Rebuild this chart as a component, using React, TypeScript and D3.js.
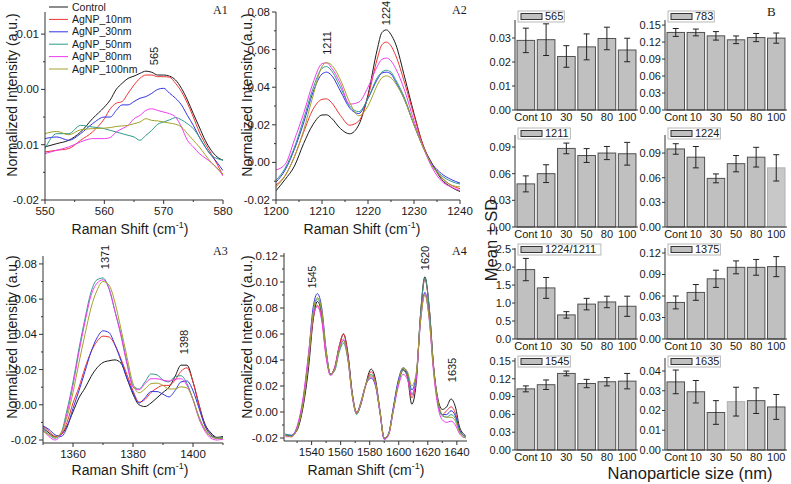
import React from 'react';
import * as d3 from 'd3';

const FONT = "'Liberation Sans', Arial, sans-serif";
const SERIF = "'Liberation Serif', 'Times New Roman', serif";
const TXT = '#1a1a1a';
const AX = '#333';

const SERIES_NAMES = ['Control', 'AgNP_10nm', 'AgNP_30nm', 'AgNP_50nm', 'AgNP_80nm', 'AgNP_100nm'];
const SERIES_COLORS = ['#1a1a1a', '#ee3333', '#3434e4', '#2e9a8c', '#f03cf0', '#a2a22a'];

// ---------- A1 ----------
const A1_X = [550, 552, 554, 556, 558, 560, 561, 562, 563, 564, 565, 566, 567, 568, 569, 570, 571, 572, 573, 574, 575, 576, 577, 578, 579, 580];
const A1_CONTROL = [-0.0104, -0.0098, -0.0092, -0.0077, -0.0053, -0.0032, -0.0019, 0.0, 0.0011, 0.002, 0.0024, 0.0029, 0.0033, 0.0031, 0.0026, 0.0026, 0.0024, 0.0017, 0.0002, -0.0019, -0.0044, -0.0068, -0.0092, -0.011, -0.0122, -0.0128];
const A1_10 = [-0.0113, -0.011, -0.0107, -0.0092, -0.0077, -0.0053, -0.0035, -0.0025, -0.0022, -0.0007, 0.0008, 0.002, 0.0026, 0.0026, 0.0023, 0.0023, 0.0022, 0.0011, -0.0004, -0.0025, -0.005, -0.0077, -0.0098, -0.0116, -0.0135, -0.0156];
const A1_30 = [-0.0089, -0.0086, -0.0092, -0.008, -0.0062, -0.005, -0.005, -0.0038, -0.0028, -0.0028, -0.0022, -0.0016, -0.0013, -0.0007, 0.0, 0.0002, -0.0007, -0.0016, -0.0028, -0.0047, -0.0065, -0.0086, -0.0104, -0.0119, -0.0132, -0.0147];
const A1_50 = [-0.0107, -0.008, -0.008, -0.0065, -0.0068, -0.0071, -0.0074, -0.0077, -0.008, -0.0083, -0.0086, -0.0092, -0.0083, -0.0074, -0.0063, -0.0059, -0.0055, -0.0051, -0.0055, -0.0062, -0.0071, -0.0086, -0.0104, -0.0119, -0.0125, -0.0128];
const A1_80 = [-0.0116, -0.011, -0.0104, -0.0095, -0.0089, -0.0089, -0.0087, -0.0077, -0.0071, -0.0065, -0.0053, -0.0047, -0.0038, -0.0035, -0.0038, -0.0041, -0.0044, -0.005, -0.0068, -0.0092, -0.0104, -0.0116, -0.0124, -0.0132, -0.0142, -0.0156];
const A1_100 = [-0.008, -0.0076, -0.0082, -0.0073, -0.0071, -0.007, -0.0069, -0.0067, -0.0066, -0.0065, -0.0062, -0.0059, -0.0053, -0.0056, -0.0057, -0.0059, -0.0061, -0.0063, -0.0068, -0.008, -0.0092, -0.0104, -0.0118, -0.0132, -0.0143, -0.0153];

// ---------- A2 ----------
const A2_X = [1200, 1202, 1204, 1206, 1208, 1210, 1211, 1212, 1214, 1216, 1218, 1220, 1222, 1223, 1224, 1225, 1226, 1228, 1230, 1232, 1234, 1236, 1238, 1240];
const A2_CONTROL = [-0.0151, -0.009, -0.002, 0.010, 0.020, 0.0252, 0.0253, 0.0237, 0.018, 0.0152, 0.020, 0.036, 0.060, 0.069, 0.0705, 0.068, 0.063, 0.045, 0.026, 0.009, -0.001, -0.009, -0.013, -0.0155];
const A2_10 = [-0.012, -0.007, 0.003, 0.016, 0.028, 0.0335, 0.0338, 0.032, 0.025, 0.0198, 0.022, 0.035, 0.055, 0.0625, 0.064, 0.062, 0.057, 0.042, 0.025, 0.009, -0.001, -0.008, -0.012, -0.014];
const A2_30 = [-0.0105, -0.004, 0.007, 0.021, 0.037, 0.047, 0.048, 0.0465, 0.038, 0.029, 0.026, 0.034, 0.044, 0.0475, 0.048, 0.047, 0.043, 0.033, 0.020, 0.008, -0.001, -0.006, -0.009, -0.011];
const A2_50 = [-0.0095, -0.003, 0.008, 0.023, 0.039, 0.050, 0.051, 0.049, 0.040, 0.030, 0.027, 0.034, 0.045, 0.048, 0.049, 0.048, 0.044, 0.034, 0.020, 0.008, -0.002, -0.007, -0.010, -0.0115];
const A2_80 = [-0.004, -0.001, 0.012, 0.026, 0.042, 0.0525, 0.053, 0.0505, 0.042, 0.031, 0.032, 0.040, 0.051, 0.0548, 0.0555, 0.054, 0.050, 0.038, 0.022, 0.008, -0.003, -0.010, -0.013, -0.015];
const A2_100 = [-0.013, -0.007, 0.003, 0.017, 0.035, 0.051, 0.053, 0.052, 0.044, 0.032, 0.0248, 0.030, 0.041, 0.045, 0.046, 0.045, 0.042, 0.033, 0.020, 0.008, -0.002, -0.008, -0.012, -0.013];

// ---------- A3 ----------
const A3_X = [1350, 1352, 1354, 1356, 1358, 1360, 1362, 1364, 1366, 1368, 1370, 1372, 1374, 1376, 1378, 1380, 1382, 1384, 1386, 1388, 1390, 1392, 1394, 1396, 1398, 1400, 1402, 1404, 1406, 1408, 1410];
const A3_CONTROL = [-0.013, -0.016, -0.018, -0.017, -0.012, -0.004, 0.004, 0.0095, 0.016, 0.021, 0.024, 0.025, 0.0255, 0.0236, 0.015, 0.006, 0.0, -0.001, 0.001, 0.004, 0.007, 0.010, 0.016, 0.0225, 0.0225, 0.013, 0.0, -0.011, -0.016, -0.0185, -0.018];
const A3_10 = [-0.012, -0.015, -0.018, -0.017, -0.010, 0.001, 0.010, 0.021, 0.030, 0.036, 0.039, 0.0385, 0.034, 0.026, 0.017, 0.008, 0.0015, 0.003, 0.007, 0.0095, 0.011, 0.011, 0.014, 0.019, 0.021, 0.013, 0.0, -0.012, -0.017, -0.019, -0.019];
const A3_30 = [-0.012, -0.014, -0.017, -0.018, -0.013, -0.002, 0.008, 0.019, 0.030, 0.038, 0.042, 0.041, 0.034, 0.025, 0.015, 0.007, 0.001, 0.004, 0.0075, 0.0075, 0.006, 0.0045, 0.008, 0.013, 0.0135, 0.008, -0.002, -0.012, -0.017, -0.019, -0.019];
const A3_50 = [-0.014, -0.017, -0.019, -0.016, -0.003, 0.013, 0.032, 0.049, 0.064, 0.071, 0.072, 0.066, 0.053, 0.040, 0.024, 0.011, 0.009, 0.013, 0.0175, 0.017, 0.014, 0.013, 0.016, 0.0165, 0.012, 0.003, -0.007, -0.014, -0.018, -0.019, -0.0185];
const A3_80 = [-0.0145, -0.018, -0.02, -0.017, -0.005, 0.011, 0.030, 0.047, 0.062, 0.069, 0.071, 0.066, 0.053, 0.039, 0.023, 0.010, 0.0085, 0.012, 0.0148, 0.0148, 0.014, 0.0135, 0.0145, 0.0148, 0.011, 0.003, -0.008, -0.015, -0.019, -0.02, -0.0195];
const A3_100 = [-0.015, -0.017, -0.0185, -0.016, -0.007, 0.007, 0.024, 0.040, 0.055, 0.065, 0.070, 0.068, 0.058, 0.043, 0.027, 0.012, 0.0068, 0.009, 0.012, 0.0123, 0.011, 0.009, 0.009, 0.0102, 0.0095, 0.003, -0.007, -0.014, -0.018, -0.019, -0.019];

// ---------- A4 ----------
const A4_X = [1522, 1526, 1530, 1534, 1538, 1541, 1544, 1547, 1550, 1553, 1556, 1559, 1562, 1565, 1568, 1571, 1574, 1577, 1581, 1584, 1587, 1590, 1593, 1596, 1600, 1603, 1606, 1609, 1612, 1615, 1618, 1621, 1624, 1627, 1630, 1633, 1636, 1639, 1642, 1646];
const A4_CONTROL = [-0.018, -0.018, -0.014, 0.003, 0.035, 0.070, 0.085, 0.075, 0.045, 0.029, 0.034, 0.050, 0.060, 0.045, 0.015, -0.001, 0.006, 0.020, 0.033, 0.025, 0.002, -0.020, -0.017, 0.000, 0.024, 0.033, 0.027, 0.006, 0.022, 0.075, 0.104, 0.080, 0.035, 0.010, 0.002, 0.004, 0.010, 0.004, -0.012, -0.018];
const A4_10 = [-0.018, -0.019, -0.013, 0.006, 0.040, 0.071, 0.082, 0.072, 0.043, 0.029, 0.035, 0.051, 0.060, 0.044, 0.014, 0.000, 0.007, 0.019, 0.031, 0.023, 0.001, -0.020, -0.017, 0.001, 0.024, 0.032, 0.027, 0.011, 0.025, 0.074, 0.102, 0.080, 0.035, 0.008, -0.002, 0.001, 0.004, -0.001, -0.014, -0.019];
const A4_30 = [-0.017, -0.018, -0.012, 0.008, 0.045, 0.080, 0.091, 0.080, 0.048, 0.029, 0.034, 0.048, 0.055, 0.042, 0.013, -0.001, 0.008, 0.020, 0.026, 0.020, 0.000, -0.021, -0.017, 0.002, 0.026, 0.034, 0.030, 0.017, 0.028, 0.070, 0.092, 0.073, 0.033, 0.007, -0.002, -0.002, 0.001, -0.003, -0.014, -0.019];
const A4_50 = [-0.017, -0.018, -0.012, 0.007, 0.042, 0.075, 0.087, 0.077, 0.046, 0.029, 0.032, 0.046, 0.053, 0.040, 0.013, -0.002, 0.007, 0.020, 0.029, 0.022, 0.001, -0.020, -0.017, 0.000, 0.023, 0.032, 0.028, 0.014, 0.026, 0.075, 0.103, 0.080, 0.034, 0.007, -0.003, -0.004, -0.002, -0.005, -0.015, -0.019];
const A4_80 = [-0.019, -0.019, -0.011, 0.010, 0.046, 0.074, 0.081, 0.070, 0.042, 0.028, 0.034, 0.050, 0.056, 0.041, 0.012, -0.001, 0.007, 0.020, 0.027, 0.021, 0.000, -0.021, -0.018, -0.001, 0.021, 0.029, 0.025, 0.013, 0.025, 0.070, 0.091, 0.071, 0.030, 0.004, -0.006, -0.008, -0.007, -0.010, -0.017, -0.020];
const A4_100 = [-0.018, -0.019, -0.013, 0.006, 0.042, 0.076, 0.088, 0.078, 0.047, 0.029, 0.033, 0.048, 0.055, 0.041, 0.013, -0.001, 0.007, 0.020, 0.028, 0.022, 0.001, -0.020, -0.017, 0.000, 0.024, 0.034, 0.031, 0.020, 0.030, 0.070, 0.090, 0.072, 0.033, 0.008, -0.002, -0.004, -0.004, -0.007, -0.016, -0.020];

// ---------- B (bars) ----------
const CATEGORIES = ['Cont', '10', '30', '50', '80', '100'];
const B565_MEAN = [0.029, 0.0293, 0.0223, 0.0263, 0.0298, 0.025];
const B565_SD = [0.0051, 0.0066, 0.0045, 0.0054, 0.0047, 0.0049];
const B783_MEAN = [0.137, 0.137, 0.131, 0.124, 0.128, 0.127];
const B783_SD = [0.007, 0.006, 0.0075, 0.0068, 0.0072, 0.009];
const B1211_MEAN = [0.0485, 0.06, 0.0884, 0.0804, 0.0832, 0.0824];
const B1211_SD = [0.009, 0.01, 0.006, 0.0078, 0.0074, 0.0128];
const B1224_MEAN = [0.095, 0.085, 0.0592, 0.0771, 0.085, 0.072];
const B1224_SD = [0.0064, 0.013, 0.0054, 0.0099, 0.012, 0.016];
const BRATIO_MEAN = [1.93, 1.42, 0.67, 0.97, 1.03, 0.91];
const BRATIO_SD = [0.31, 0.29, 0.09, 0.16, 0.16, 0.28];
const B1375_MEAN = [0.051, 0.065, 0.084, 0.1, 0.1, 0.101];
const B1375_SD = [0.009, 0.011, 0.012, 0.009, 0.011, 0.014];
const B1545_MEAN = [0.103, 0.11, 0.129, 0.112, 0.115, 0.116];
const B1545_SD = [0.005, 0.008, 0.004, 0.007, 0.007, 0.013];
const B1635_MEAN = [0.0345, 0.0295, 0.019, 0.0245, 0.025, 0.0218];
const B1635_SD = [0.006, 0.0057, 0.006, 0.0073, 0.0065, 0.0063];

const TICKS_001_003 = [0, 0.01, 0.02, 0.03];
const TICKS_003_015 = [0, 0.03, 0.06, 0.09, 0.12, 0.15];
const TICKS_003_009 = [0, 0.03, 0.06, 0.09];
const TICKS_003_012 = [0, 0.03, 0.06, 0.09, 0.12];
const TICKS_05_25 = [0, 0.5, 1.0, 1.5, 2.0, 2.5];
const TICKS_001_004 = [0, 0.01, 0.02, 0.03, 0.04];

type LineCfg = {
  id: string; xs: number[]; series: number[][];
  xDomain: [number, number]; xRange: [number, number];
  yDomain: [number, number]; yRange: [number, number];
  xTicks: number[]; xMinor: number[]; yTicks: number[]; yMinor: number[];
  yTitle: [number, number]; xTitle: [number, number]; tag: [string, number, number];
};

const LINE_PANELS: LineCfg[] = [
  {
    id: 'a1', xs: A1_X, series: [A1_CONTROL, A1_10, A1_30, A1_50, A1_80, A1_100],
    xDomain: [550, 580], xRange: [45, 223], yDomain: [-0.02, 0.014], yRange: [200, 12],
    xTicks: [550, 560, 570, 580], xMinor: [555, 565, 575],
    yTicks: [-0.02, -0.01, 0, 0.01], yMinor: [-0.015, -0.005, 0.005],
    yTitle: [12, 95], xTitle: [130, 234], tag: ['A1', 213, 14],
  },
  {
    id: 'a2', xs: A2_X, series: [A2_CONTROL, A2_10, A2_30, A2_50, A2_80, A2_100],
    xDomain: [1200, 1240], xRange: [276, 460], yDomain: [-0.02, 0.08], yRange: [200, 12],
    xTicks: [1200, 1210, 1220, 1230, 1240], xMinor: [1205, 1215, 1225, 1235],
    yTicks: [-0.02, 0, 0.02, 0.04, 0.06, 0.08], yMinor: [-0.01, 0.01, 0.03, 0.05, 0.07],
    yTitle: [247, 95], xTitle: [362, 234], tag: ['A2', 452, 14],
  },
  {
    id: 'a3', xs: A3_X, series: [A3_CONTROL, A3_10, A3_30, A3_50, A3_80, A3_100],
    xDomain: [1350, 1410], xRange: [43, 223], yDomain: [-0.0217, 0.0845], yRange: [443, 256],
    xTicks: [1360, 1380, 1400], xMinor: [1350, 1370, 1390, 1410],
    yTicks: [-0.02, 0, 0.02, 0.04, 0.06, 0.08], yMinor: [-0.01, 0.01, 0.03, 0.05, 0.07],
    yTitle: [12, 337], xTitle: [130, 475], tag: ['A3', 213, 255],
  },
  {
    id: 'a4', xs: A4_X, series: [A4_CONTROL, A4_10, A4_30, A4_50, A4_80, A4_100],
    xDomain: [1521, 1647], xRange: [284, 467], yDomain: [-0.0223, 0.1223], yRange: [441, 253],
    xTicks: [1540, 1560, 1580, 1600, 1620, 1640], xMinor: [1530, 1550, 1570, 1590, 1610, 1630],
    yTicks: [-0.02, 0, 0.02, 0.04, 0.06, 0.08, 0.1, 0.12], yMinor: [-0.01, 0.01, 0.03, 0.05, 0.07, 0.09, 0.11],
    yTitle: [247, 337], xTitle: [366, 475], tag: ['A4', 452, 255],
  },
];

const PEAK_LABELS: [string, number, number, number][] = [
  ['565', 154, 56, 11],
  ['1211', 327, 43, 11],
  ['1224', 386, 13, 11],
  ['1371', 105, 257, 11],
  ['1398', 184, 342, 11],
  ['1545', 312, 277, 10],
  ['1620', 425, 258, 11],
  ['1635', 452, 370, 11],
];

const fmt2 = (v: number) => (Math.abs(v) < 1e-9 ? '0.00' : v.toFixed(2));

function XTitle({ x, y }: { x: number; y: number }) {
  return (
    <text x={x} y={y} textAnchor="middle" fontFamily={FONT} fontSize={14} fill={TXT}>
      Raman Shift (cm<tspan dy={-6} fontSize={9}>-1</tspan><tspan dy={6}>)</tspan>
    </text>
  );
}

function LinePanel({ cfg }: { cfg: LineCfg }) {
  const x = d3.scaleLinear().domain(cfg.xDomain).range(cfg.xRange);
  const y = d3.scaleLinear().domain(cfg.yDomain).range(cfg.yRange);
  const line = d3.line<number>()
    .x((_, i) => x(cfg.xs[i]))
    .y((d) => y(d))
    .curve(d3.curveMonotoneX);
  const [x0, x1] = cfg.xRange;
  const [yb, yt] = cfg.yRange;
  return (
    <g>
      <defs>
        <clipPath id={`clip-${cfg.id}`}>
          <rect x={x0} y={yt - 2} width={x1 - x0} height={yb - yt + 2} />
        </clipPath>
      </defs>
      <g clipPath={`url(#clip-${cfg.id})`}>
        {cfg.series.map((s, i) => (
          <path key={i} d={line(s) || ''} fill="none" stroke={SERIES_COLORS[i]} strokeWidth={1} />
        ))}
      </g>
      <line x1={x0} x2={x0} y1={yt} y2={yb} stroke={AX} strokeWidth={1} />
      <line x1={x0} x2={x1} y1={yb} y2={yb} stroke={AX} strokeWidth={1} />
      {cfg.yTicks.map((t) => (
        <g key={`yt${t}`}>
          <line x1={x0 - 4} x2={x0} y1={y(t)} y2={y(t)} stroke={AX} />
          <text x={x0 - 6} y={y(t)} dy="0.35em" textAnchor="end" fontFamily={FONT} fontSize={11.5} fill={TXT}>{fmt2(t)}</text>
        </g>
      ))}
      {cfg.yMinor.map((t) => (
        <line key={`ym${t}`} x1={x0 - 2} x2={x0} y1={y(t)} y2={y(t)} stroke={AX} />
      ))}
      {cfg.xTicks.map((t) => (
        <g key={`xt${t}`}>
          <line x1={x(t)} x2={x(t)} y1={yb} y2={yb + 4} stroke={AX} />
          <text x={x(t)} y={yb + 15} textAnchor="middle" fontFamily={FONT} fontSize={11.5} fill={TXT}>{t}</text>
        </g>
      ))}
      {cfg.xMinor.map((t) => (
        <line key={`xm${t}`} x1={x(t)} x2={x(t)} y1={yb} y2={yb + 2} stroke={AX} />
      ))}
      <text transform={`translate(${cfg.yTitle[0]},${cfg.yTitle[1]}) rotate(-90)`} textAnchor="middle" dy="0.35em"
        fontFamily={FONT} fontSize={14} fill={TXT}>Normalized Intensity (a.u.)</text>
      <XTitle x={cfg.xTitle[0]} y={cfg.xTitle[1]} />
      <text x={cfg.tag[1]} y={cfg.tag[2]} fontFamily={SERIF} fontSize={12} fill={TXT}>{cfg.tag[0]}</text>
    </g>
  );
}

type BarCfg = {
  label: string; mean: number[]; sd: number[]; max: number; ticks: number[]; dec: number;
  col: number; row: number; faded: number;
};

const BAR_PANELS: BarCfg[] = [
  { label: '565', mean: B565_MEAN, sd: B565_SD, max: 0.0375, ticks: TICKS_001_003, dec: 2, col: 0, row: 0, faded: -1 },
  { label: '783', mean: B783_MEAN, sd: B783_SD, max: 0.159, ticks: TICKS_003_015, dec: 2, col: 1, row: 0, faded: -1 },
  { label: '1211', mean: B1211_MEAN, sd: B1211_SD, max: 0.1035, ticks: TICKS_003_009, dec: 2, col: 0, row: 1, faded: -1 },
  { label: '1224', mean: B1224_MEAN, sd: B1224_SD, max: 0.112, ticks: TICKS_003_009, dec: 2, col: 1, row: 1, faded: 5 },
  { label: '1224/1211', mean: BRATIO_MEAN, sd: BRATIO_SD, max: 2.53, ticks: TICKS_05_25, dec: 1, col: 0, row: 2, faded: -1 },
  { label: '1375', mean: B1375_MEAN, sd: B1375_SD, max: 0.127, ticks: TICKS_003_012, dec: 2, col: 1, row: 2, faded: -1 },
  { label: '1545', mean: B1545_MEAN, sd: B1545_SD, max: 0.155, ticks: TICKS_003_015, dec: 2, col: 0, row: 3, faded: -1 },
  { label: '1635', mean: B1635_MEAN, sd: B1635_SD, max: 0.0466, ticks: TICKS_001_004, dec: 2, col: 1, row: 3, faded: 3 },
];

const COL_X: [number, number][] = [[515, 638], [665, 787]];
const ROW_Y: [number, number][] = [[20, 110], [135, 227], [248, 339], [358, 450]];
const LEGEND_Y = [11, 128, 244, 356];

function BarPanel({ p }: { p: BarCfg }) {
  const [x0, x1] = COL_X[p.col];
  const [top, bottom] = ROW_Y[p.row];
  const x = d3.scaleBand<string>().domain(CATEGORIES).range([x0, x1]).paddingInner(0.13).paddingOuter(0.1);
  const y = d3.scaleLinear().domain([0, p.max]).range([bottom, top]);
  const bw = x.bandwidth();
  const legW = 28 + p.label.length * 6.1;
  const legX = x0 + 3;
  const legY = LEGEND_Y[p.row];
  return (
    <g>
      {p.mean.map((m, i) => {
        const cx = (x(CATEGORIES[i]) as number) + bw / 2;
        const faded = i === p.faded;
        return (
          <g key={i}>
            <rect x={x(CATEGORIES[i])} y={y(m)} width={bw} height={bottom - y(m)}
              fill={faded ? '#c8c8c8' : '#c0c0c0'} stroke={faded ? '#b0b0b0' : '#505050'} strokeWidth={1} />
            <line x1={cx} x2={cx} y1={y(m + p.sd[i])} y2={y(m - p.sd[i])} stroke="#222" strokeWidth={1} />
            <line x1={cx - 3} x2={cx + 3} y1={y(m + p.sd[i])} y2={y(m + p.sd[i])} stroke="#222" strokeWidth={1} />
            <line x1={cx - 3} x2={cx + 3} y1={y(m - p.sd[i])} y2={y(m - p.sd[i])} stroke="#222" strokeWidth={1} />
          </g>
        );
      })}
      <line x1={x0} x2={x0} y1={top} y2={bottom} stroke={AX} strokeWidth={1} />
      <line x1={x0} x2={x1} y1={bottom} y2={bottom} stroke={AX} strokeWidth={1} />
      {p.ticks.map((t) => (
        <g key={t}>
          <line x1={x0 - 3} x2={x0} y1={y(t)} y2={y(t)} stroke={AX} />
          <text x={x0 - 4} y={y(t)} dy="0.35em" textAnchor="end" fontFamily={FONT} fontSize={11} fill={TXT}>{t.toFixed(p.dec)}</text>
        </g>
      ))}
      {CATEGORIES.map((c) => (
        <text key={c} x={(x(c) as number) + bw / 2} y={bottom + 10.5} textAnchor="middle" fontFamily={FONT} fontSize={11} fill={TXT}>{c}</text>
      ))}
      <rect x={legX} y={legY} width={legW} height={11} fill="#fff" stroke="#b8b8b8" strokeWidth={1} />
      <rect x={legX + 3} y={legY + 2.5} width={21} height={6} fill="#c0c0c0" stroke="#333" strokeWidth={1} />
      <text x={legX + 27} y={legY + 5.5} dy="0.35em" fontFamily={FONT} fontSize={11} fill={TXT}>{p.label}</text>
    </g>
  );
}

export default function App() {
  return (
    <svg width={791} height={484} style={{ position: 'absolute', left: 0, top: 0, background: '#fff' }}>
      <rect x={0} y={0} width={791} height={484} fill="#fff" />
      {LINE_PANELS.map((cfg) => <LinePanel key={cfg.id} cfg={cfg} />)}
      {SERIES_NAMES.map((n, i) => (
        <g key={n}>
          <line x1={49} x2={68} y1={7 + i * 12.4} y2={7 + i * 12.4} stroke={SERIES_COLORS[i]} strokeWidth={1} />
          <text x={72} y={7 + i * 12.4} dy="0.35em" fontFamily={FONT} fontSize={10.5} fill={TXT}>{n}</text>
        </g>
      ))}
      {PEAK_LABELS.map(([t, px, py, fs]) => (
        <text key={t} transform={`translate(${px},${py}) rotate(-90)`} textAnchor="middle" dy="0.35em"
          fontFamily={FONT} fontSize={fs} fill={TXT}>{t}</text>
      ))}
      {BAR_PANELS.map((p) => <BarPanel key={p.label} p={p} />)}
      <text transform="translate(491,240) rotate(-90)" textAnchor="middle" dy="0.35em" fontFamily={FONT} fontSize={16.5} fill={TXT}>Mean ± SD</text>
      <text x={690} y={479} textAnchor="middle" fontFamily={FONT} fontSize={16.5} fill={TXT}>Nanoparticle size (nm)</text>
      <text x={767} y={16} fontFamily={SERIF} fontSize={13} fill={TXT}>B</text>
    </svg>
  );
}
